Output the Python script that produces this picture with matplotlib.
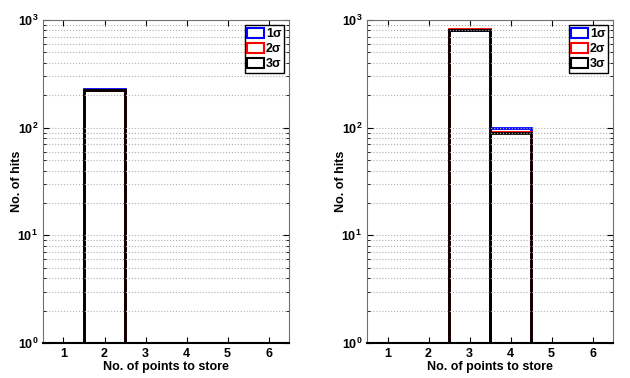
import matplotlib.pyplot as plt
from matplotlib.patches import Patch
from matplotlib.ticker import LogLocator, NullFormatter

plt.rcParams['font.family'] = ['Liberation Sans', 'DejaVu Sans']
plt.rcParams['font.weight'] = 'bold'

points = [1, 2, 3, 4, 5, 6]
# hit counts per number of points, one list per sigma level
left_1s = [0, 229, 0, 0, 0, 0]
left_2s = [0, 224, 0, 0, 0, 0]
left_3s = [0, 224, 0, 0, 0, 0]
right_1s = [0, 0, 815, 100, 0, 0]
right_2s = [0, 0, 818, 91, 0, 0]
right_3s = [0, 0, 815, 90, 0, 0]
labels = ['1σ', '2σ', '3σ']
colors = ['blue', 'red', 'black']

fig = plt.figure(figsize=(6.3, 3.78), dpi=100)
ax1 = fig.add_axes([43/630, 1-343/378, 246/630, 323/378])
ax2 = fig.add_axes([367/630, 1-343/378, 246/630, 323/378])

def draw(ax, series):
    for counts, c in zip(series, colors):
        xs = [p for p, v in zip(points, counts) if v > 0]
        vs = [v - 1 for v in counts if v > 0]
        ax.bar(xs, vs, width=1, bottom=1, fill=False, edgecolor=c, linewidth=2)
    ax.set_yscale('log')
    ax.set_ylim(1, 1000)
    ax.set_xlim(0.5, 6.5)
    ax.set_xticks(points)
    ax.yaxis.set_minor_locator(LogLocator(base=10, subs=range(2, 10)))
    ax.yaxis.set_minor_formatter(NullFormatter())
    ax.grid(True, which='both', axis='y', linestyle=':', color='#b0b0b0', linewidth=0.8)
    ax.tick_params(which='both', direction='in', top=True, right=True, labelsize=9)
    ax.tick_params(which='major', length=4)
    ax.tick_params(which='minor', length=2)
    for s in ax.spines.values():
        s.set_color('#707070')
    ax.spines['bottom'].set_color('black')
    ax.spines['bottom'].set_linewidth(1.5)
    ax.set_xlabel('No. of points to store', fontsize=9, fontweight='bold', labelpad=1)
    ax.set_ylabel('No. of hits', fontsize=9, fontweight='bold')
    ax.yaxis.set_label_coords(-0.08, 0.5)
    handles = [Patch(facecolor='white', edgecolor=c, linewidth=1.5, label=l) for c, l in zip(colors, labels)]
    leg = ax.legend(handles=handles, loc='upper right', fontsize=9, handlelength=1.3,
                    handleheight=0.9, handletextpad=0.2, borderpad=0.2, labelspacing=0.2,
                    fancybox=False, framealpha=1, borderaxespad=0.4)
    leg.get_frame().set_edgecolor('black')

draw(ax1, [left_1s, left_2s, left_3s])
draw(ax2, [right_1s, right_2s, right_3s])

fig.savefig('out.png')
